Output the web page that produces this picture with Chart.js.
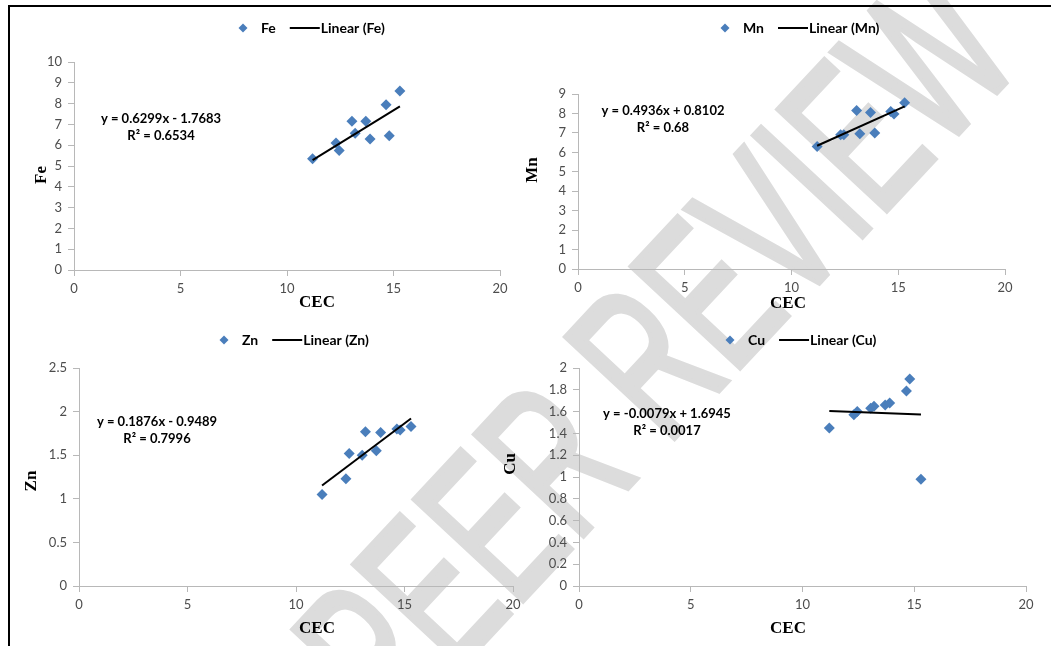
<!DOCTYPE html>
<html>
<head>
<meta charset="utf-8">
<title>CEC vs micronutrients</title>
<script src="https://cdn.jsdelivr.net/npm/chart.js@4.4.0/dist/chart.umd.min.js"></script>
<style>
  html, body { margin: 0; padding: 0; background: #fff; }
  #page { position: relative; width: 1051px; height: 646px; overflow: hidden; }
  #frame { position: absolute; left: 8px; top: 5px; width: 1100px; height: 700px;
           border-top: 2px solid #000; border-left: 2px solid #000; }
  #mark { position: absolute; left: 655px; top: 350px; white-space: nowrap; line-height: 1;
          transform: translate(-50%, -50%) rotate(-47deg) scaleX(0.62);
          font: 215px "Liberation Sans", sans-serif; color: #dcdcdc;
          -webkit-text-stroke: 6px #dcdcdc; }
  canvas { position: absolute; left: 0; top: 0; }
</style>
</head>
<body>
<div id="page">
  <div id="mark">PEER REVIEW</div>
  <div id="frame"></div>
  <canvas id="c0" width="1051" height="646"></canvas>
  <canvas id="c1" width="1051" height="646"></canvas>
  <canvas id="c2" width="1051" height="646"></canvas>
  <canvas id="c3" width="1051" height="646"></canvas>
</div>
<script>
// CEC on the x axis, same for all four plots
const cec = [11.2, 12.3, 12.45, 13.05, 13.2, 13.7, 13.9, 14.65, 14.8, 15.3];

const fe = [5.35, 6.1, 5.75, 7.15, 6.58, 7.15, 6.3, 7.95, 6.45, 8.6];
const mn = [6.3, 6.9, 6.9, 8.15, 6.95, 8.05, 7.0, 8.1, 7.97, 8.55];
const zn = [1.05, 1.23, 1.52, 1.5, 1.77, 1.55, 1.76, 1.8, 1.79, 1.83];
const cu = [1.45, 1.57, 1.6, 1.63, 1.65, 1.66, 1.68, 1.79, 1.9, 0.98];

const names = ['Fe', 'Mn', 'Zn', 'Cu'];
const slopes = [0.6299, 0.4936, 0.1876, -0.0079];
const intercepts = [-1.7683, 0.8102, -0.9489, 1.6945];
const eqLabels = ['y = 0.6299x - 1.7683', 'y = 0.4936x + 0.8102', 'y = 0.1876x - 0.9489', 'y = -0.0079x + 1.6945'];
const r2Labels = ['R\u00b2 = 0.6534', 'R\u00b2 = 0.68', 'R\u00b2 = 0.7996', 'R\u00b2 = 0.0017'];

const xTicks = { min: 0, max: 20, step: 5 };
const yMax = [10, 9, 2.5, 2];
const yStep = [1, 1, 0.5, 0.2];

// where each plot sits on the page
const layout = [
  { area: { left: 74, right: 500, top: 62, bottom: 270 }, legend: [243, 28], eq: [161, 119], xTitle: [317, 303], yTitle: [42, 175] },
  { area: { left: 578, right: 1005, top: 94, bottom: 269 }, legend: [725, 28], eq: [663, 111], xTitle: [788, 304], yTitle: [533, 170] },
  { area: { left: 79, right: 513, top: 368, bottom: 586 }, legend: [224, 340], eq: [157, 422], xTitle: [317, 629], yTitle: [32, 481] },
  { area: { left: 579, right: 1026, top: 368, bottom: 586 }, legend: [730, 340], eq: [667, 414], xTitle: [788, 629], yTitle: [511, 464] }
];

const W = 1051, H = 646;
const Y_W = 40, X_H = 40;
const blue = '#4a7ebb';
const axisColor = '#b8b8b8';
const tickColor = '#4d4d4d';
const sans = 'Lato, "Open Sans", sans-serif';
const serif = '"Liberation Serif", "DejaVu Serif", serif';

function fmt(v) { return String(+v.toFixed(2)); }

function diamond(ctx, x, y, r) {
  if (Chart.helpers && Chart.helpers.drawPoint) {
    Chart.helpers.drawPoint(ctx, { pointStyle: 'rectRot', rotation: 0, radius: r, borderWidth: 0 }, x, y);
  } else {
    ctx.beginPath();
    ctx.moveTo(x, y - r); ctx.lineTo(x + r, y); ctx.lineTo(x, y + r); ctx.lineTo(x - r, y);
    ctx.closePath(); ctx.fill();
  }
}

// legend, equation and axis titles drawn at fixed spots
function panelText(i) {
  const L = layout[i];
  return {
    id: 'panelText' + i,
    afterDraw(chart) {
      const ctx = chart.ctx;
      ctx.save();
      // legend
      const [lx, ly] = L.legend;
      ctx.fillStyle = blue;
      diamond(ctx, lx, ly, 4.5);
      ctx.font = 'bold 14px ' + sans;
      ctx.fillStyle = '#000';
      ctx.textBaseline = 'middle';
      ctx.textAlign = 'left';
      const tx = lx + 18;
      ctx.fillText(names[i], tx, ly);
      const l1 = tx + ctx.measureText(names[i]).width + 14;
      ctx.strokeStyle = '#000';
      ctx.lineWidth = 2;
      ctx.beginPath(); ctx.moveTo(l1, ly); ctx.lineTo(l1 + 30, ly); ctx.stroke();
      ctx.fillText('Linear (' + names[i] + ')', l1 + 31, ly);
      // trendline equation
      ctx.font = 'bold 13px ' + sans;
      ctx.textAlign = 'center';
      ctx.fillText(eqLabels[i], L.eq[0], L.eq[1]);
      ctx.fillText(r2Labels[i], L.eq[0], L.eq[1] + 17);
      // axis titles
      ctx.font = 'bold 17px ' + serif;
      ctx.fillText('CEC', L.xTitle[0], L.xTitle[1]);
      ctx.translate(L.yTitle[0], L.yTitle[1]);
      ctx.rotate(-Math.PI / 2);
      ctx.fillText(names[i], 0, 0);
      ctx.restore();
    }
  };
}

const series = [fe, mn, zn, cu];

series.forEach((vals, i) => {
  const a = layout[i].area;
  const xmin = Math.min(...cec), xmax = Math.max(...cec);
  new Chart(document.getElementById('c' + i), {
    type: 'scatter',
    data: {
      datasets: [
        {
          label: 'Linear (' + names[i] + ')',
          data: [xmin, xmax].map(x => ({ x, y: slopes[i] * x + intercepts[i] })),
          showLine: true,
          borderColor: '#000',
          borderWidth: 2,
          pointRadius: 0,
          order: 0
        },
        {
          label: names[i],
          data: cec.map((x, k) => ({ x, y: vals[k] })),
          pointStyle: 'rectRot',
          pointRadius: 5.5,
          backgroundColor: blue,
          borderColor: blue,
          borderWidth: 0,
          order: 1
        }
      ]
    },
    options: {
      responsive: false,
      devicePixelRatio: 1,
      animation: false,
      layout: {
        padding: { left: a.left - Y_W, right: W - a.right, top: a.top, bottom: H - a.bottom - X_H }
      },
      plugins: { legend: { display: false }, tooltip: { enabled: false } },
      scales: {
        x: {
          type: 'linear',
          min: xTicks.min,
          max: xTicks.max,
          ticks: { stepSize: xTicks.step, color: tickColor, font: { family: sans, size: 13 }, padding: 5, callback: fmt },
          grid: { drawOnChartArea: false, tickLength: 6, color: axisColor },
          border: { color: axisColor },
          afterFit: s => { s.height = X_H; }
        },
        y: {
          min: 0,
          max: yMax[i],
          ticks: { stepSize: yStep[i], color: tickColor, font: { family: sans, size: 13 }, padding: 6, callback: fmt },
          grid: { drawOnChartArea: false, tickLength: 6, color: axisColor },
          border: { color: axisColor },
          afterFit: s => { s.width = Y_W; }
        }
      }
    },
    plugins: [panelText(i)]
  });
});
</script>
</body>
</html>
